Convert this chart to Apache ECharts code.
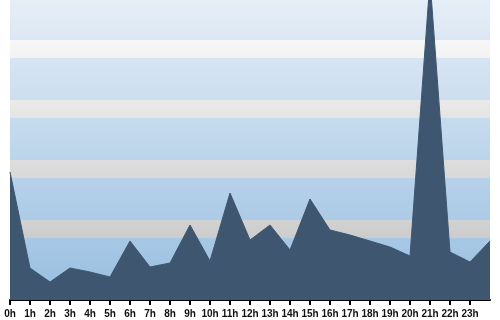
<!DOCTYPE html>
<html>
<head>
<meta charset="utf-8">
<script src="https://cdn.jsdelivr.net/npm/echarts@6/dist/echarts.min.js"></script>
<style>
html,body{margin:0;padding:0;background:#fff;}
#chart{width:500px;height:320px;}
</style>
</head>
<body>
<div id="chart"></div>
<script>
const hours = ['0h','1h','2h','3h','4h','5h','6h','7h','8h','9h','10h','11h','12h','13h','14h','15h','16h','17h','18h','19h','20h','21h','22h','23h',''];
const values = [128,32,18,32,28,23,59,33,37,75,39,107,60,75,50,101,70,65,59,53,44,320,48,38,59];
const stripeBands = [[242,260,'#f7f7f7','#f2f2f2'],[182,200,'#eaeaea','#e4e4e4'],[122,140,'#dedede','#d8d8d8'],[62,80,'#d2d2d2','#cccccc']];

const chart = echarts.init(document.getElementById('chart'), null, {renderer:'canvas'});
const grad = (a,b) => new echarts.graphic.LinearGradient(0,0,0,1,[{offset:0,color:a},{offset:1,color:b}]);
chart.setOption({
  animation:false,
  grid:{left:10,right:10,top:0,bottom:20,show:true,borderWidth:0,
    backgroundColor:grad('#e6eef7','#97bee0')},
  xAxis:{type:'category',data:hours,boundaryGap:false,
    axisLine:{lineStyle:{color:'#000',width:2}},
    axisTick:{interval:(i)=>i<24,length:5,lineStyle:{color:'#000',width:2}},
    axisLabel:{interval:(i)=>i<24,color:'#111',fontFamily:'Liberation Sans',fontWeight:'bold',fontSize:10,margin:9},
    splitLine:{show:false}},
  yAxis:{type:'value',min:0,max:300,show:false,splitLine:{show:false}},
  series:[
    {type:'line',data:[],z:1,silent:true,
      markArea:{silent:true,data:stripeBands.map(b=>[{yAxis:b[1],itemStyle:{color:grad(b[2],b[3])}},{yAxis:b[0]}])}},
    {type:'line',data:values,z:3,symbol:'none',smooth:false,clip:true,
      lineStyle:{color:'#3e566f',width:1},
      areaStyle:{color:'#3e566f',opacity:1}}
  ]
});
</script>
</body>
</html>
